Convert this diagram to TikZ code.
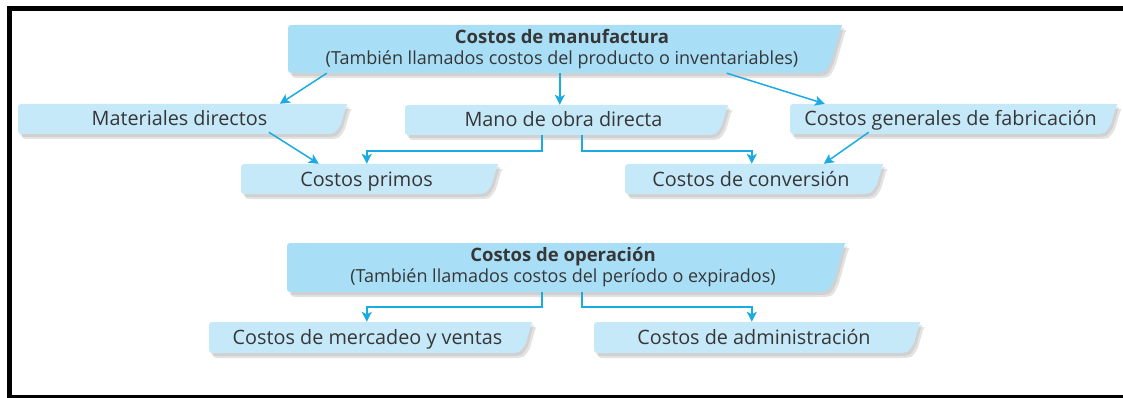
\documentclass[tikz,border=0pt]{standalone}
\usepackage{fontspec}
\setmainfont{Open Sans}
\usetikzlibrary{arrows.meta,calc}
\definecolor{hdr}{HTML}{A9DEF7}
\definecolor{subc}{HTML}{C6E9FA}
\definecolor{arrc}{HTML}{1AABE3}
\definecolor{txtc}{HTML}{363636}
\definecolor{shc}{HTML}{909090}
\tikzset{
  conn/.style={draw=arrc, line width=1.5pt, -{Stealth[length=10pt,width=10pt,inset=2.5pt]}},
  lbl/.style={text=txtc, font=\fontsize{19.8}{21}\selectfont, inner sep=0pt, align=center, text height=16pt, text depth=2pt},
  hlbl/.style={text=txtc, font=\fontsize{18}{21}\selectfont, inner sep=0pt, align=center},
}
% shape path: x1,y1,x2,y2,a,b,c
\newcommand\bshape[7]{%
  ({#1+7},#2) -- ({#3-3},#2) .. controls ({#3+1},#2) .. ({#3-1},{#2+3})
  -- ({#3-#5},{#4-#6}) .. controls ({#3-#5-6},#4) .. ({#3-#7},#4)
  -- ({#1+7},#4) .. controls (#1,#4) .. (#1,{#4-7})
  -- (#1,{#2+7}) .. controls (#1,#2) .. ({#1+7},#2) -- cycle}
% name, x1, y1, x2, y2, colour, big(1)/small(0), text, style
\newcommand\cbx[9]{%
  \ifnum#7=1 \def\pa{10}\def\pb{14}\def\pc{32}\else\def\pa{6}\def\pb{10}\def\pc{24}\fi
  \begin{scope}[shift={(2,3)}]\fill[shc, opacity=0.2] \bshape{#2}{#3}{#4}{#5}{\pa}{\pb}{\pc};\end{scope}
  \begin{scope}[shift={(4,5)}]\fill[shc, opacity=0.25] \bshape{#2}{#3}{#4}{#5}{\pa}{\pb}{\pc};\end{scope}
  \fill[#6] \bshape{#2}{#3}{#4}{#5}{\pa}{\pb}{\pc};
  \node[#9, minimum width={#4-#2}, minimum height={#5-#3}] (#1) at ({(#2+#4)/2-3},{(#3+#5)/2}) {#8};
}
\begin{document}
\begin{tikzpicture}[x=1pt,y=-1pt]
\useasboundingbox (0,0) rectangle (1123,398);
\fill[white] (0,0) rectangle (1123,398);
% frame
\fill[black] (7,6) rectangle (1123,11);
\fill[black] (7,6) rectangle (12,398);
\fill[black] (7,395) rectangle (1123,398);

\cbx{man}{288}{25}{842}{73}{hdr}{1}{{\fontsize{18.5}{21}\selectfont\textbf{Costos de manufactura}}\\(También llamados costos del producto o inventariables)}{hlbl}
\cbx{mat}{18}{104}{347}{134}{subc}{0}{Materiales directos}{lbl}
\cbx{mano}{405}{105}{728}{135}{subc}{0}{Mano de obra directa}{lbl}
\cbx{gen}{790}{104}{1117}{134}{subc}{0}{Costos generales de fabricación}{lbl}
\cbx{prim}{241}{164}{498}{194}{subc}{0}{Costos primos}{lbl}
\cbx{conv}{625}{164}{883}{194}{subc}{0}{Costos de conversión}{lbl}
\cbx{op}{287}{243}{845}{292}{hdr}{1}{{\fontsize{18.5}{21}\selectfont\textbf{Costos de operación}}\\(También llamados costos del período o expirados)}{hlbl}
\cbx{merc}{209}{322}{532}{353}{subc}{0}{Costos de mercadeo y ventas}{lbl}
\cbx{adm}{594}{322}{920}{353}{subc}{0}{Costos de administración}{lbl}

\draw[conn] ($(man.south west)+(42,0)$) -- ($(mat.north west)+(265,0)$);
\draw[conn] ($(man.south west)+(275,0)$) -- ($(mano.north west)+(158,0)$);
\draw[conn] ($(man.south west)+(442,0)$) -- ($(gen.north west)+(38,0)$);
\draw[conn] ($(mat.south west)+(254,-2)$) -- ($(prim.north west)+(81,0)$);
\draw[conn] ($(gen.south west)+(82,-2)$) -- ($(conv.north west)+(202,0)$);
\draw[conn] ($(mano.south west)+(140,0)$) -- ++(0,16) -| ($(prim.north west)+(129,0)$);
\draw[conn] ($(mano.south west)+(180,0)$) -- ++(0,16) -| ($(conv.north west)+(130,0)$);
\draw[conn] ($(op.south west)+(258,0)$) -- ++(0,15) -| ($(merc.north west)+(161,0)$);
\draw[conn] ($(op.south west)+(298,0)$) -- ++(0,15) -| ($(adm.north west)+(161,0)$);
\end{tikzpicture}
\end{document}
